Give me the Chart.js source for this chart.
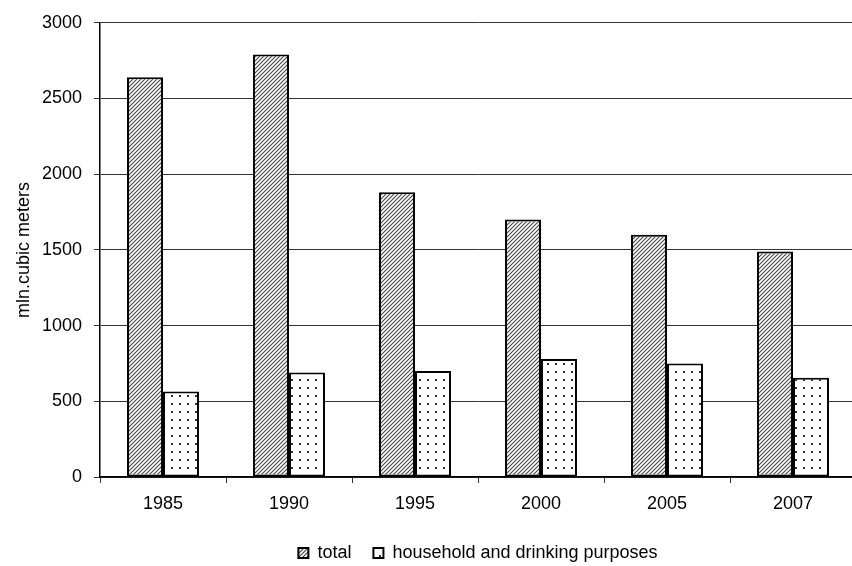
<!DOCTYPE html>
<html>
<head>
<meta charset="utf-8">
<script src="https://cdn.jsdelivr.net/npm/chart.js@4.4.1/dist/chart.umd.min.js"></script>
<style>
  html, body { margin: 0; padding: 0; background: #fff; overflow: hidden; }
  #wrap { width: 858px; height: 572px; }
</style>
</head>
<body>
<div id="wrap"><canvas id="waterChart" width="858" height="572"></canvas></div>
<script>
var years = ['1985', '1990', '1995', '2000', '2005', '2007'];
var totalValues = [2640, 2790, 1880, 1700, 1600, 1490];
var householdValues = [565, 690, 700, 780, 750, 655];
var seriesNames = ['total', 'household and drinking purposes'];
var yTicks = [0, 500, 1000, 1500, 2000, 2500, 3000];

// hatch pattern for "total"
function makeHatch() {
  var c = document.createElement('canvas');
  c.width = 4; c.height = 4;
  var g = c.getContext('2d');
  g.fillStyle = '#fff';
  g.fillRect(0, 0, 4, 4);
  g.strokeStyle = '#444';
  g.lineWidth = 1.1;
  g.beginPath();
  g.moveTo(-1, 5); g.lineTo(5, -1);
  g.moveTo(-1, 1); g.lineTo(1, -1);
  g.moveTo(3, 5); g.lineTo(5, 3);
  g.stroke();
  return g.createPattern(c, 'repeat');
}

// dotted pattern for "household"
function makeDots() {
  var c = document.createElement('canvas');
  c.width = 8; c.height = 8;
  var g = c.getContext('2d');
  g.fillStyle = '#fff';
  g.fillRect(0, 0, 8, 8);
  g.fillStyle = '#333';
  g.fillRect(3, 3, 2, 2);
  return g.createPattern(c, 'repeat');
}

var fontFamily = '"Liberation Sans", Arial, sans-serif';
Chart.defaults.font.family = fontFamily;
Chart.defaults.font.size = 18;
Chart.defaults.color = '#000';

var myChart = document.getElementById('waterChart').getContext('2d');

new Chart(myChart, {
  type: 'bar',
  data: {
    labels: years,
    datasets: [{
      label: seriesNames[0],
      data: totalValues,
      backgroundColor: makeHatch(),
      borderColor: '#000',
      borderWidth: 2,
      borderSkipped: false,
      barPercentage: 1.0,
      categoryPercentage: 0.571
    }, {
      label: seriesNames[1],
      data: householdValues,
      backgroundColor: makeDots(),
      borderColor: '#000',
      borderWidth: 2,
      borderSkipped: false,
      barPercentage: 1.0,
      categoryPercentage: 0.571
    }]
  },
  options: {
    responsive: false,
    animation: false,
    devicePixelRatio: 1,
    layout: { padding: { top: 20, right: 2, bottom: 0, left: 0 } },
    plugins: {
      tooltip: { enabled: false },
      legend: {
        position: 'bottom',
        fullSize: false,
        labels: {
          boxWidth: 10,
          boxHeight: 10,
          padding: 22,
          font: { size: 18 },
          color: '#000'
        }
      }
    },
    scales: {
      x: {
        offset: true,
        grid: {
          display: true,
          offset: true,
          drawOnChartArea: false,
          drawTicks: true,
          tickLength: 6,
          color: '#333'
        },
        border: { display: true, color: '#000', width: 1.5 },
        ticks: { padding: 10, font: { size: 18 }, color: '#000' },
        afterFit: function (scale) { scale.height = 45; }
      },
      y: {
        min: 0,
        max: 3000,
        afterBuildTicks: function (scale) {
          scale.ticks = yTicks.map(function (v) { return { value: v }; });
        },
        grid: {
          color: '#333',
          lineWidth: 1,
          tickLength: 6,
          drawTicks: true
        },
        border: { display: true, color: '#000', width: 1.5 },
        ticks: {
          padding: 12,
          font: { size: 18 },
          color: '#000',
          callback: function (v) { return String(v); }
        },
        title: {
          display: true,
          text: 'mln.cubic meters',
          font: { size: 18 },
          color: '#000',
          padding: { top: 13, bottom: 0 }
        },
        afterFit: function (scale) { scale.width = 100; }
      }
    }
  }
});
</script>
</body>
</html>
